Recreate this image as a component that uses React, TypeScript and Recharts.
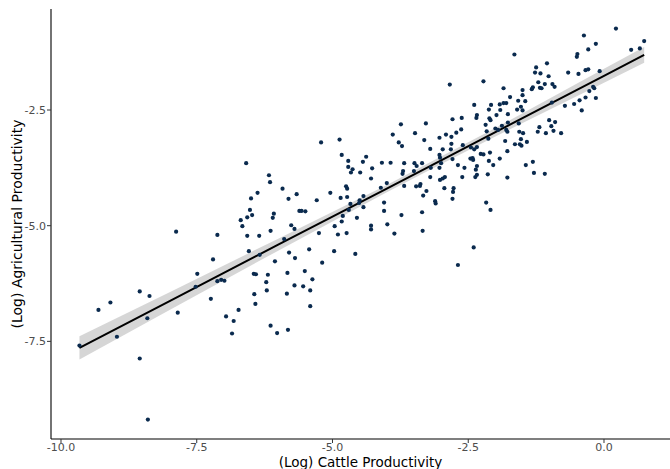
import { ComposedChart, Scatter, Line, Area, XAxis, YAxis } from 'recharts';

// (log) cattle productivity
const cattle = [
  -7.88, -7.12, -7.2, -7.49, -7.52, -7.12, -7.05, -6.99, -8.55, -8.37,
  -9.09, -9.31, -7.85, -7.24, -8.41, -6.96, -8.97, -9.66, -8.55, -8.4,
  -6.59, -6.17, -6.15, -5.92, -6.38, -6.5, -5.81, -5.66, -6.52, -6.48,
  -6.57, -6.69, -6.08, -6.1, -5.61, -5.57, -5.5, -6.66, -5.76, -5.7,
  -6.14, -6.57, -6.35, -5.89, -6.54, -6.34, -5.8, -5.69, -6.06, -6.45,
  -6.41, -6.19, -5.83, -6.22, -5.7, -6.21, -6.44, -5.84, -6.42, -6.73,
  -6.82, -6.85, -6.14, -6.02, -5.82, -5.21, -4.87, -4.83, -4.38, -4.71,
  -4.44, -4.71, -4.63, -4.66, -4.49, -4.27, -4.29, -4.75, -4.73, -5.04,
  -5.29, -4.85, -4.73, -4.43, -4.5, -4.67, -4.51, -4.43, -4.7, -4.81,
  -4.83, -4.55, -4.96, -4.29, -4.29, -5.25, -4.9, -4.74, -5.43, -4.97,
  -4.58, -5.19, -5.51, -5.37, -5.54, -5.41, -5.41, -2.84, -3.74, -3.28,
  -3.89, -3.48, -3.78, -3.72, -3.31, -3.03, -2.91, -3.2, -2.97, -3.03,
  -3.02, -3.0, -3.03, -4.09, -3.93, -3.68, -3.49, -3.45, -3.35, -3.19,
  -3.7, -3.71, -3.5, -3.2, -3.02, -2.97, -2.93, -2.94, -4.11, -4.0,
  -3.68, -3.46, -3.38, -3.39, -3.27, -3.33, -3.11, -3.1, -4.05, -4.05,
  -3.73, -3.35, -3.99, -3.86, -3.34, -1.65, -2.22, -1.85, -1.5, -2.39,
  -2.08, -1.92, -1.85, -1.8, -1.73, -1.58, -1.5, -1.53, -1.6, -1.5,
  -2.12, -1.91, -1.98, -2.34, -2.35, -2.11, -2.09, -1.77, -2.79, -2.62,
  -2.18, -1.88, -1.77, -1.57, -2.0, -1.95, -2.63, -2.72, -2.16, -1.8,
  -1.78, -1.56, -2.81, -2.13, -1.53, -1.55, -1.52, -1.64, -1.82, -2.81,
  -2.82, -2.6, -2.45, -2.34, -2.39, -1.78, -2.1, -2.27, -2.22, -2.79,
  -2.46, -2.42, -2.41, -1.92, -2.12, -2.34, -2.36, -2.69, -2.57, -2.04,
  -2.61, -2.34, -2.37, -2.14, -1.78, -2.77, -2.78, -2.79, -2.17, -2.09,
  -2.4, -2.69, -0.37, -0.15, -0.29, -0.49, -0.5, -1.05, -1.25, -1.27,
  -1.17, -1.02, -0.66, -0.47, -0.34, -0.29, -1.21, -1.09, -0.95, -0.91,
  -1.31, -1.33, -1.18, -1.15, -1.45, -0.2, -0.27, -0.18, -0.15, -0.34,
  -0.45, -0.55, -0.41, -0.72, -0.96, -1.01, -0.9, -0.97, -1.19, -0.93,
  -1.22, -1.07, -0.79, -1.49, -1.42, -1.44, -1.31, -1.29, -1.09, 0.22,
  0.5, 0.66, 0.74, -0.08,
];

// (log) agricultural productivity, same order
const agri = [
  -5.13, -5.2, -5.73, -6.04, -6.32, -6.2, -6.17, -6.19, -6.42, -6.52,
  -6.66, -6.82, -6.88, -6.58, -7.0, -6.96, -7.4, -7.59, -7.87, -9.19,
  -3.65, -3.91, -4.06, -4.2, -4.29, -4.41, -4.42, -4.32, -4.66, -4.77,
  -4.82, -4.88, -4.74, -4.83, -4.68, -4.68, -4.69, -5.01, -4.99, -5.07,
  -5.11, -5.22, -5.22, -5.29, -5.55, -5.63, -5.58, -5.7, -5.77, -6.04,
  -6.05, -6.06, -6.02, -6.22, -6.29, -6.4, -6.48, -6.47, -6.69, -6.82,
  -7.06, -7.33, -7.16, -7.32, -7.25, -3.2, -3.14, -3.47, -3.51, -3.6,
  -3.62, -3.73, -3.78, -3.85, -3.85, -3.76, -3.98, -4.15, -4.2, -4.29,
  -4.45, -4.4, -4.38, -4.36, -4.45, -4.53, -4.51, -4.6, -4.66, -4.79,
  -4.91, -4.83, -5.01, -5.0, -5.08, -5.16, -5.19, -5.16, -5.51, -5.55,
  -5.61, -5.8, -5.98, -6.16, -6.31, -6.4, -6.74, -1.95, -2.81, -2.79,
  -3.03, -3.0, -3.2, -3.28, -3.15, -3.1, -3.03, -3.34, -3.35, -3.47,
  -3.53, -3.65, -3.75, -3.64, -3.64, -3.65, -3.65, -3.71, -3.65, -3.75,
  -3.82, -3.88, -3.82, -3.95, -4.01, -3.98, -3.95, -4.19, -4.18, -4.08,
  -4.14, -4.15, -4.1, -4.14, -4.25, -4.35, -4.47, -4.52, -4.5, -4.68,
  -4.77, -4.71, -4.97, -5.17, -5.11, -1.3, -1.88, -2.03, -2.07, -2.39,
  -2.39, -2.38, -2.35, -2.35, -2.22, -2.3, -2.18, -2.43, -2.49, -2.51,
  -2.49, -2.5, -2.61, -2.61, -2.67, -2.68, -2.72, -2.59, -2.7, -2.67,
  -2.82, -2.84, -2.77, -2.79, -2.9, -2.93, -2.92, -2.99, -2.96, -2.93,
  -2.97, -2.97, -3.08, -3.12, -3.13, -3.24, -3.27, -3.24, -3.17, -3.23,
  -3.35, -3.26, -3.31, -3.3, -3.35, -3.39, -3.42, -3.45, -3.46, -3.56,
  -3.55, -3.54, -3.58, -3.55, -3.6, -3.71, -3.79, -3.69, -3.75, -3.69,
  -3.95, -3.9, -3.95, -3.89, -3.96, -4.19, -4.27, -4.42, -4.5, -4.66,
  -5.47, -5.85, -0.89, -1.07, -1.19, -1.29, -1.35, -1.49, -1.58, -1.69,
  -1.71, -1.77, -1.69, -1.72, -1.64, -1.62, -1.9, -1.94, -1.94, -2.0,
  -2.01, -2.05, -2.02, -2.03, -2.31, -2.0, -2.09, -2.03, -2.24, -2.23,
  -2.29, -2.37, -2.51, -2.41, -2.34, -2.72, -2.76, -2.85, -2.87, -2.95,
  -2.97, -3.0, -3.0, -3.0, -3.19, -3.69, -3.62, -3.86, -3.88, -0.74,
  -1.2, -1.17, -1.01, -1.66,
];

// fitted line and its confidence band, read at a few x positions
const fitX = [-9.66, -8, -6, -4, -3.3, -2, 0, 0.74];
const fitY = [-7.64, -6.63, -5.41, -4.2, -3.77, -2.98, -1.76, -1.31];
const fitLow = [-7.89, -6.82, -5.54, -4.28, -3.85, -3.07, -1.91, -1.48];
const fitHigh = [-7.39, -6.44, -5.28, -4.12, -3.69, -2.89, -1.61, -1.14];

const xTicks = [-10, -7.5, -5, -2.5, 0];
const yTicks = [-7.5, -5, -2.5];

const points = cattle.map((x, i) => ({ x, y: agri[i] }));
const fitData = fitX.map((x, i) => ({ x, fit: fitY[i], band: [fitLow[i], fitHigh[i]] }));

const fmt = (v: number) => v.toFixed(1);

const Dot = (props: any) => <circle cx={props.cx} cy={props.cy} r={2.1} fill="#0A2A4E" />;

export default function App() {
  return (
    <div style={{ position: 'absolute', left: 0, top: 0, fontFamily: 'DejaVu Sans' }}>
      <ComposedChart width={670} height={469} margin={{ top: 9, right: 0, bottom: 0, left: 0 }}>
        <XAxis
          type="number"
          dataKey="x"
          domain={[-10.184, 1.2155]}
          allowDataOverflow
          ticks={xTicks}
          tickFormatter={fmt}
          height={30}
          tickSize={4}
          tickMargin={0}
          axisLine={{ stroke: '#000', strokeWidth: 1.1 }}
          tickLine={{ stroke: '#333' }}
          tick={{ fill: '#4D4D4D', fontSize: 11 }}
          label={{ value: '(Log) Cattle Productivity', position: 'insideBottom', offset: 2, fill: '#000', fontSize: 13.5 }}
        />
        <YAxis
          type="number"
          domain={[-9.61, -0.317]}
          allowDataOverflow
          ticks={yTicks}
          tickFormatter={fmt}
          width={51}
          tickSize={4}
          tickMargin={1}
          axisLine={{ stroke: '#000', strokeWidth: 1.1 }}
          tickLine={{ stroke: '#333' }}
          tick={{ fill: '#4D4D4D', fontSize: 11 }}
          label={{
            value: '(Log) Agricultural Productivity',
            angle: -90,
            position: 'insideLeft',
            offset: 17,
            fill: '#000',
            fontSize: 14,
            style: { textAnchor: 'middle' },
          }}
        />
        <Scatter data={points} dataKey="y" shape={Dot} isAnimationActive={false} />
        <Area
          data={fitData}
          dataKey="band"
          type="linear"
          stroke="none"
          fill="#999999"
          fillOpacity={0.4}
          isAnimationActive={false}
        />
        <Line
          data={fitData}
          dataKey="fit"
          type="linear"
          stroke="#000"
          strokeWidth={2}
          dot={false}
          activeDot={false}
          isAnimationActive={false}
        />
      </ComposedChart>
    </div>
  );
}
